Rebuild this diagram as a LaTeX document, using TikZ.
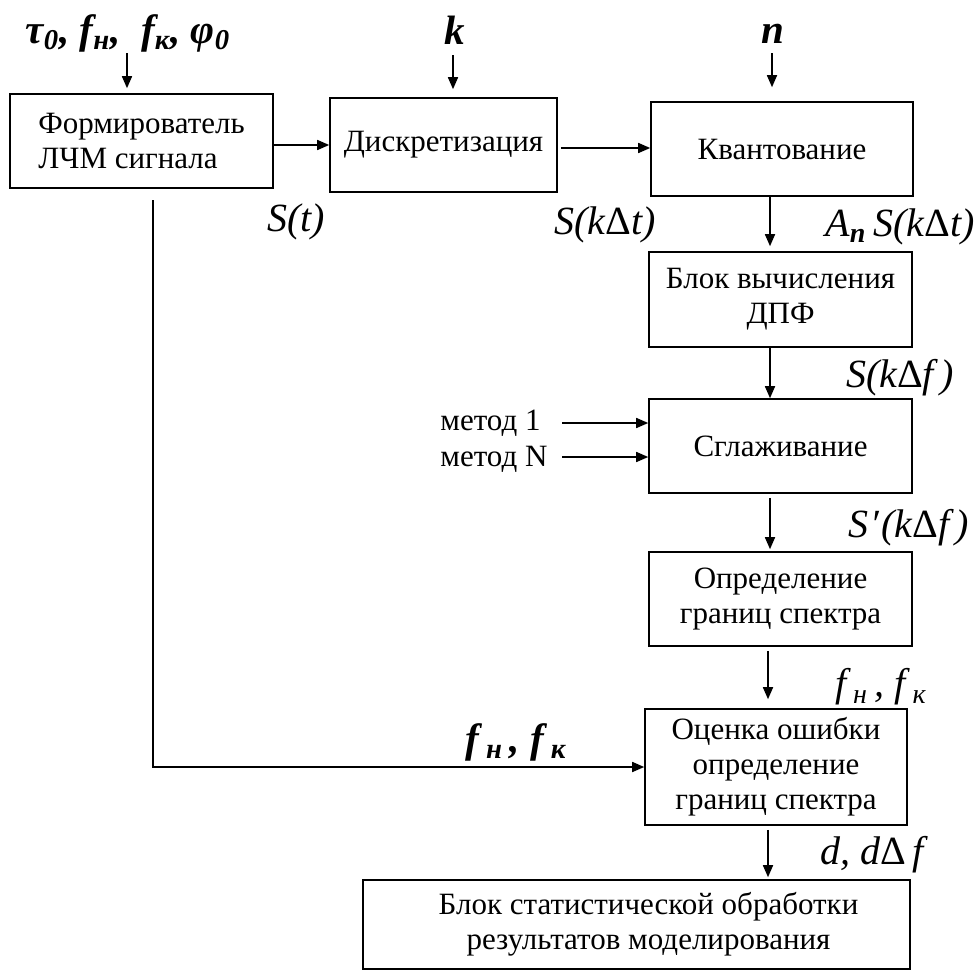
\documentclass[tikz,border=0pt]{standalone}
\usepackage{fontspec}
\setmainfont{Liberation Serif}
\usetikzlibrary{arrows.meta}
\newcommand{\blockfont}{\fontsize{15.5}{17.5}\selectfont}
\newcommand{\sigfont}{\fontsize{20}{22}\selectfont\itshape}
\newcommand{\parfont}{\fontsize{20.5}{22}\selectfont\bfseries\itshape}
\newcommand{\Dl}{{\upshape Δ}}

\begin{document}
\begin{tikzpicture}[x=0.5pt, y=-0.5pt,
  block/.style={draw, line width=0.8pt, align=center, font=\blockfont, inner sep=2pt},
  arr/.style={-{Triangle[length=6pt,width=5pt]}, line width=0.8pt},
  sig/.style={font=\sigfont, inner sep=0pt},
  inlabel/.style={font=\parfont, inner sep=0pt}]
  \useasboundingbox (0,0) rectangle (978,969);
  % blocks
  \node[block, align=left, minimum width=131.5pt, minimum height=47pt] (form) at (141.5,141) {Формирователь\\ЛЧМ сигнала};
  \node[block, minimum width=113.5pt, minimum height=47pt] (discr) at (443.5,145) {Дискретизация};
  \node[block, minimum width=131pt, minimum height=47pt] (quant) at (782,149) {Квантование};
  \node[block, minimum width=131.5pt, minimum height=47.5pt] (dft) at (780.5,299.5) {Блок вычисления\\ДПФ};
  \node[block, minimum width=131.5pt, minimum height=47pt] (smooth) at (780.5,446) {Сглаживание};
  \node[block, minimum width=131.5pt, minimum height=47pt] (bounds) at (780.5,599) {Определение\\границ спектра};
  \node[block, minimum width=131pt, minimum height=58pt] (err) at (776,767) {Оценка ошибки\\определение\\границ спектра};
  \node[block, minimum width=273.5pt, minimum height=44.5pt] (stat) at (636.5,924.5) {\hspace*{12pt}Блок статистической обработки\\\hspace*{12pt}результатов моделирования};
  % input parameters
  \node[inlabel] (par) at (128,33) {τ\textsubscript{0}, f\textsubscript{н},\ \ f\textsubscript{к}, φ\textsubscript{0}};
  \node[inlabel] (kpar) at (455,30) {k};
  \node[inlabel] (npar) at (773,34) {n};
  \node[font=\blockfont, anchor=west, inner sep=0pt] (meth1) at (440,423) {метод 1};
  \node[font=\blockfont, anchor=west, inner sep=0pt] (methN) at (440,459) {метод N};
  \coordinate (parin) at (127,53);
  \coordinate (kin) at (453,55);
  \coordinate (nin) at (772,53);
  \coordinate (m1) at (562,423);
  \coordinate (mN) at (562,457);
  \coordinate (fb) at (153,200);
  \coordinate (col) at (770,0);
  % signal labels
  \node[sig] (st) at (296,222) {S(t)};
  \node[sig] (skt) at (605,225) {S(k\Dl t)};
  \node[sig] (anskt) at (900,227) {A\textsubscript{\textbf{n}}\,S(k\Dl t)};
  \node[sig] (skf) at (900,378) {S(k\Dl f\,)};
  \node[sig] (sskf) at (909,528) {S\kern1pt′\kern1pt(k\Dl f\,)};
  \node[sig] (fnk) at (881,687) {f\,\textsubscript{н}\,,\ f\,\textsubscript{к}};
  \node[inlabel] (fnkin) at (516,742) {f\,\textsubscript{н}\,,\ f\,\textsubscript{к}};
  \node[sig] (dd) at (872,855) {d, d\Dl\,f};
  % arrows
  \draw[arr, shorten >=2.5pt] (parin) -- (parin |- form.north);
  \draw[arr, shorten >=4pt] (kin) -- (kin |- discr.north);
  \draw[arr, shorten >=7pt] (nin) -- (nin |- quant.north);
  \draw[arr] (form.east |- 0,145) -- (discr.west |- 0,145);
  \draw[arr, shorten <=1.5pt] (discr.east |- 0,148) -- (quant.west |- 0,148);
  \draw[arr, shorten >=2.5pt] (quant.south -| col) -- (dft.north -| col);
  \draw[arr] (dft.south -| col) -- (smooth.north -| col);
  \draw[arr, shorten <=2pt, shorten >=1pt] (smooth.south -| col) -- (bounds.north -| col);
  \draw[arr, shorten <=2pt, shorten >=4.5pt] ([xshift=-1pt]bounds.south -| col) -- ([xshift=-1pt]err.north -| col);
  \draw[arr, shorten <=2pt, shorten >=1pt] ([xshift=-1pt]err.south -| col) -- ([xshift=-1pt]stat.north -| col);
  \draw[arr] (m1) -- (smooth.west |- m1);
  \draw[arr] (mN) -- (smooth.west |- mN);
  \draw[arr] (fb) |- (err.west);
\end{tikzpicture}
\end{document}
